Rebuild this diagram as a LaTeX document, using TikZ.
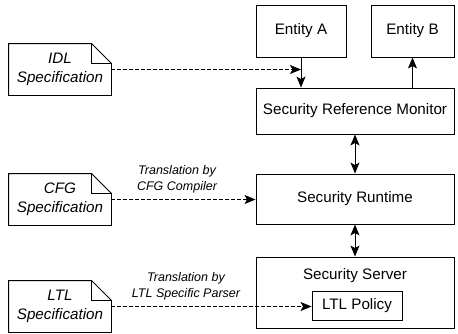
\documentclass[tikz,border=0pt]{standalone}
\usepackage{fontspec}
\setmainfont{Liberation Sans}
\usetikzlibrary{arrows.meta}
\begin{document}
\begin{tikzpicture}[x=1pt, y=-1pt, line width=0.9pt,
    font=\fontsize{15.2}{19}\selectfont,
    box/.style={draw, inner sep=0pt, align=center},
    spec/.style={inner sep=0pt, minimum width=102pt, minimum height=51pt, align=center, font=\fontsize{15.2}{19}\selectfont\itshape},
    lbl/.style={inner sep=0pt, align=center, font=\fontsize{12.5}{15.7}\selectfont\itshape},
    arr/.style={-{Stealth[length=11pt, width=9pt, inset=2.5pt]}},
    dbl/.style={{Stealth[length=11pt, width=9pt, inset=2.5pt]}-{Stealth[length=11pt, width=9pt, inset=2.5pt]}},
    dasharr/.style={arr, dash pattern=on 3.5pt off 2.5pt}]
  \useasboundingbox (0,0) rectangle (458,333);
  % components on the right
  \node[box, minimum width=90pt, minimum height=52pt] (ea) at (301,31) {Entity A};
  \node[box, minimum width=83pt, minimum height=52pt] (eb) at (412.5,31) {Entity B};
  \node[box, minimum width=198pt, minimum height=46pt] (srm) at (355,111) {Security Reference Monitor};
  \node[box, minimum width=198pt, minimum height=50pt] (rt) at (355,199) {Security Runtime};
  \node[box, minimum width=198pt, minimum height=71pt] (ss) at (355,292.5) {};
  \node[inner sep=0pt, anchor=north] (sstxt) at ([yshift=-11pt]ss.north) {Security Server};
  \node[box, minimum width=90pt, minimum height=29pt] (pol) at (357,305.5) {LTL Policy};

  % specification documents
  \node[spec] (idl) at (60,69.5) {IDL\\Specification};
  \node[spec] (cfg) at (60,199.5) {CFG\\Specification};
  \node[spec] (ltl) at (60,306.5) {LTL\\Specification};
  \draw (idl.north west) -- ([xshift=-20pt]idl.north east) -- ([yshift=-20pt]idl.north east) -- (idl.south east) -- (idl.south west) -- cycle;
  \draw ([xshift=-20pt]idl.north east) |- ([yshift=-20pt]idl.north east);
  \draw (cfg.north west) -- ([xshift=-20pt]cfg.north east) -- ([yshift=-20pt]cfg.north east) -- (cfg.south east) -- (cfg.south west) -- cycle;
  \draw ([xshift=-20pt]cfg.north east) |- ([yshift=-20pt]cfg.north east);
  \draw (ltl.north west) -- ([xshift=-20pt]ltl.north east) -- ([yshift=-20pt]ltl.north east) -- (ltl.south east) -- (ltl.south west) -- cycle;
  \draw ([xshift=-20pt]ltl.north east) |- ([yshift=-20pt]ltl.north east);

  % connectors
  \draw[arr] (ea.south) -- (ea.south |- srm.north);
  \draw[arr] (eb.south |- srm.north) -- (eb.south);
  \draw[dbl] (srm.south) -- (rt.north);
  \draw[dbl] (rt.south) -- (ss.north);
  \coordinate (hit) at (ea.south |- idl.east);
  \draw[dasharr] (idl.east) -- (hit);
  \draw[dasharr] (cfg.east) -- (cfg.east -| rt.west);
  \draw[dasharr] (ltl.east) -- (ltl.east -| pol.west);
  \node[lbl] (cfglbl) at (177,179.5) {Translation by\\CFG Compiler};
  \node[lbl] (ltllbl) at (186,286) {Translation by\\LTL Specific Parser};
\end{tikzpicture}
\end{document}
